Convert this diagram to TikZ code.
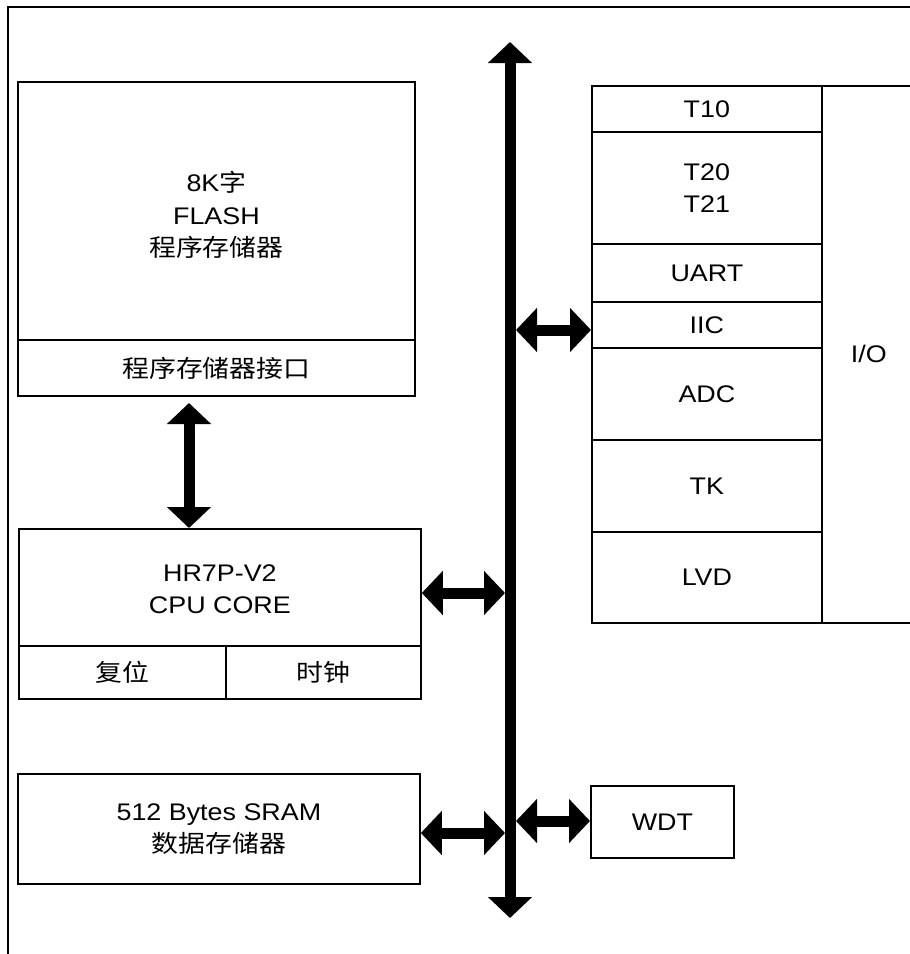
\documentclass[tikz,border=0pt]{standalone}
\usepackage{fontspec}
\setmainfont{Liberation Sans}[FakeStretch=1.12]
\newfontfamily\cjk{Noto Sans CJK SC}[FakeStretch=1.12]
\usetikzlibrary{arrows.meta}
\begin{document}
\begin{tikzpicture}[x=1pt,y=-1pt,
  txt/.style={inner sep=0pt, align=center, font=\fontsize{24}{32.5}\selectfont},
  blk/.style={txt, draw, line width=1.8pt, anchor=north west},
  dbl/.style={line width=11pt, {Triangle[length=21pt,width=43pt]}-{Triangle[length=21pt,width=43pt]}},
  frame/.style={line width=2pt}
]
\clip (0,0) rectangle (910,954);
% outer frame
\coordinate (fbl) at (8,960);
\coordinate (ftl) at (8,7);
\coordinate (ftr) at (920,7);
\draw[frame] (fbl) -- (ftl) -- (ftr);

% left column
\node[blk, minimum width=397pt, minimum height=258pt] (flash) at (17,81) {};
\node[txt] (flashtxt) at ([yshift=-4pt]flash.center) {8K{\cjk 字}\\FLASH\\{\cjk 程序存储器}};
\node[blk, minimum width=397pt, minimum height=56pt] (flashif) at (17,339) {\cjk 程序存储器接口};
\node[blk, minimum width=402pt, minimum height=117pt] (cpu) at (18,528) {};
\node[txt] (cputxt) at ([yshift=-2pt]cpu.center) {HR7P-V2\\CPU CORE};
\node[blk, minimum width=207pt, minimum height=53pt] (reset) at (18,645) {\cjk 复位};
\node[blk, minimum width=195pt, minimum height=53pt] (clock) at (225,645) {\cjk 时钟};
\node[blk, minimum width=402pt, minimum height=110pt] (sram) at (17,773) {512 Bytes SRAM\\{\cjk 数据存储器}};

% right column
\node[blk, minimum width=230pt, minimum height=46pt] (t10) at (591,85) {T10};
\node[blk, minimum width=230pt, minimum height=112pt] (t2x) at (591,131) {T20\\T21};
\node[blk, minimum width=230pt, minimum height=58pt] (uart) at (591,243) {UART};
\node[blk, minimum width=230pt, minimum height=46pt] (iic) at (591,301) {IIC};
\node[blk, minimum width=230pt, minimum height=92pt] (adc) at (591,347) {ADC};
\node[blk, minimum width=230pt, minimum height=92pt] (tk) at (591,439) {TK};
\node[blk, minimum width=230pt, minimum height=91pt] (lvd) at (591,531) {LVD};
\node[blk, minimum width=94pt, minimum height=537pt] (io) at (821,85) {I/O};
\node[blk, minimum width=143pt, minimum height=72pt] (wdt) at (590,785) {WDT};

% bus
\coordinate (bustop) at (510,42);
\coordinate (busbot) at (510,918);
\draw[dbl] (bustop) -- (busbot);

% connectors
\coordinate (biic) at (516,330);
\draw[dbl] (biic) -- (biic -| iic.west);
\coordinate (bcpu) at (505,593);
\draw[dbl] (bcpu -| cpu.east) -- (bcpu);
\coordinate (bsram) at (505,833);
\draw[dbl] (bsram -| sram.east) -- (bsram);
\coordinate (bwdt) at (516,821);
\draw[dbl] (bwdt) -- (bwdt -| wdt.west);
\coordinate (fc) at (189,403);
\draw[dbl] (fc) -- (fc |- cpu.north);
\end{tikzpicture}
\end{document}
